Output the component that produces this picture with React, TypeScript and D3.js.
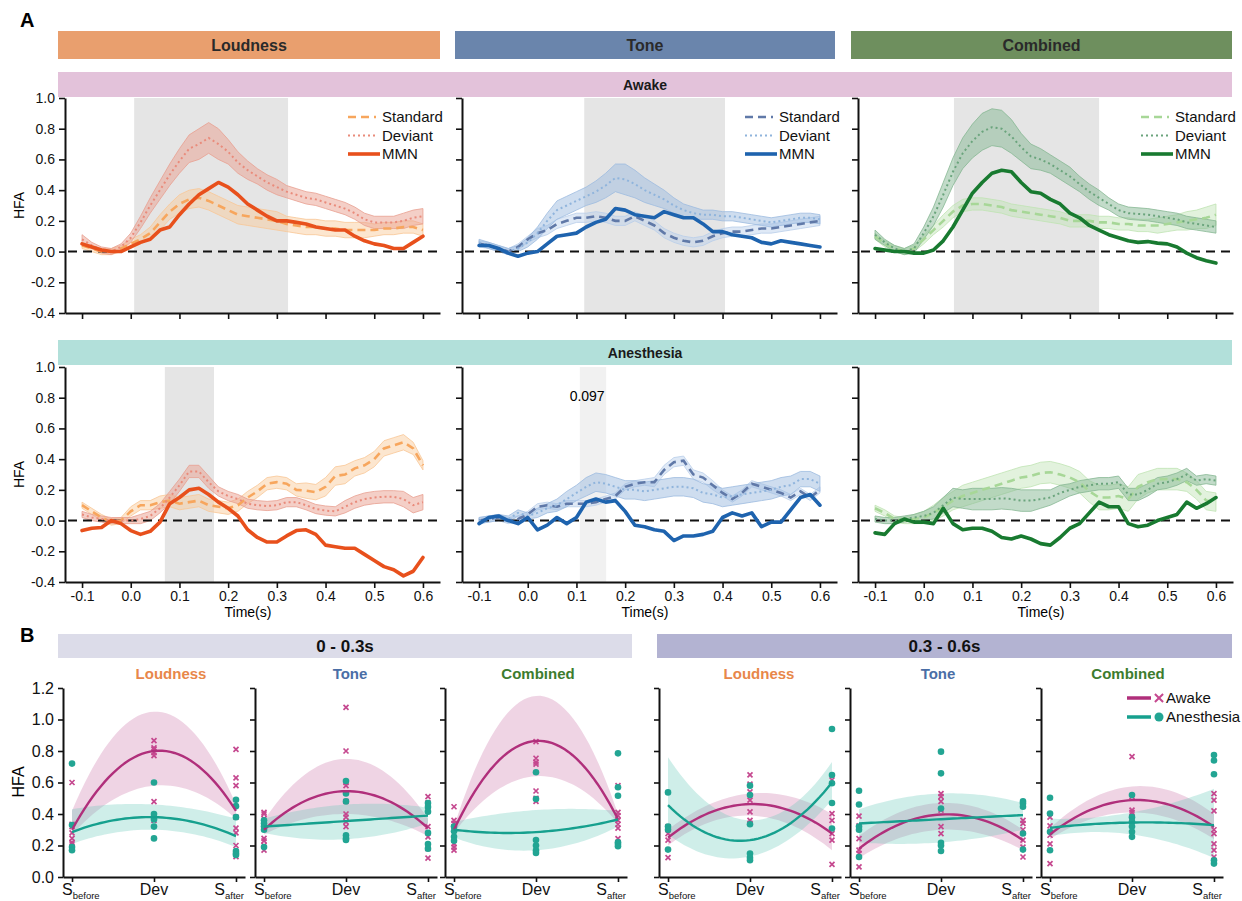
import React, { useEffect, useRef } from "react";
import * as d3 from "d3";

// ---------------- Panel A: time courses ----------------
const times = [-0.1, -0.08, -0.06, -0.04, -0.02, 0, 0.02, 0.04, 0.06, 0.08, 0.1, 0.12, 0.14, 0.16, 0.18, 0.2, 0.22, 0.24, 0.26, 0.28, 0.3, 0.32, 0.34, 0.36, 0.38, 0.4, 0.42, 0.44, 0.46, 0.48, 0.5, 0.52, 0.54, 0.56, 0.58, 0.6];
const timeTicks = [-0.1, 0, 0.1, 0.2, 0.3, 0.4, 0.5, 0.6];
const hfaTicksA = [-0.4, -0.2, 0, 0.2, 0.4, 0.6, 0.8, 1.0];

const conditions = ["Loudness", "Tone", "Combined"];
const states = ["Awake", "Anesthesia"];

// awake
const loudAwakeStd = [0.04, 0.02, 0, 0, 0.02, 0.05, 0.08, 0.12, 0.19, 0.26, 0.31, 0.34, 0.35, 0.33, 0.3, 0.27, 0.24, 0.23, 0.22, 0.21, 0.2, 0.18, 0.17, 0.16, 0.16, 0.15, 0.15, 0.14, 0.14, 0.14, 0.14, 0.15, 0.15, 0.16, 0.16, 0.14];
const loudAwakeStdErr = [0.02, 0.02, 0.02, 0.02, 0.02, 0.03, 0.03, 0.04, 0.05, 0.05, 0.06, 0.06, 0.06, 0.06, 0.06, 0.06, 0.06, 0.06, 0.06, 0.06, 0.06, 0.05, 0.05, 0.05, 0.05, 0.05, 0.05, 0.05, 0.05, 0.05, 0.04, 0.04, 0.04, 0.04, 0.04, 0.04];
const loudAwakeDev = [0.08, 0.04, 0.01, 0, 0.03, 0.09, 0.19, 0.3, 0.4, 0.5, 0.59, 0.67, 0.7, 0.74, 0.7, 0.65, 0.58, 0.53, 0.49, 0.45, 0.42, 0.39, 0.37, 0.35, 0.34, 0.32, 0.3, 0.28, 0.25, 0.21, 0.19, 0.19, 0.19, 0.2, 0.22, 0.23];
const loudAwakeDevErr = [0.03, 0.02, 0.02, 0.02, 0.02, 0.03, 0.04, 0.05, 0.06, 0.07, 0.08, 0.09, 0.1, 0.1, 0.1, 0.08, 0.07, 0.06, 0.05, 0.05, 0.05, 0.04, 0.04, 0.04, 0.04, 0.04, 0.04, 0.04, 0.04, 0.04, 0.04, 0.04, 0.04, 0.05, 0.05, 0.05];
const loudAwakeMmn = [0.05, 0.03, 0.01, 0, 0, 0.03, 0.06, 0.08, 0.14, 0.16, 0.24, 0.31, 0.37, 0.41, 0.45, 0.42, 0.37, 0.31, 0.27, 0.23, 0.2, 0.2, 0.19, 0.18, 0.16, 0.15, 0.14, 0.14, 0.1, 0.07, 0.05, 0.04, 0.02, 0.02, 0.06, 0.1];

const toneAwakeStd = [0.05, 0.04, 0.02, 0, 0.03, 0.08, 0.12, 0.14, 0.18, 0.2, 0.22, 0.22, 0.23, 0.22, 0.2, 0.2, 0.23, 0.2, 0.17, 0.12, 0.09, 0.07, 0.06, 0.07, 0.1, 0.12, 0.13, 0.13, 0.14, 0.15, 0.15, 0.16, 0.17, 0.18, 0.19, 0.2];
const toneAwakeStdErr = [0.02, 0.02, 0.02, 0.02, 0.02, 0.02, 0.03, 0.03, 0.03, 0.03, 0.03, 0.03, 0.03, 0.03, 0.03, 0.03, 0.03, 0.03, 0.03, 0.03, 0.03, 0.03, 0.03, 0.03, 0.03, 0.03, 0.03, 0.03, 0.03, 0.03, 0.03, 0.03, 0.03, 0.03, 0.03, 0.03];
const toneAwakeDev = [0.06, 0.04, 0.02, 0, 0.02, 0.06, 0.12, 0.2, 0.27, 0.3, 0.33, 0.36, 0.39, 0.43, 0.48, 0.47, 0.44, 0.4, 0.37, 0.34, 0.3, 0.27, 0.25, 0.24, 0.24, 0.23, 0.23, 0.22, 0.21, 0.2, 0.19, 0.2, 0.21, 0.22, 0.22, 0.21];
const toneAwakeDevErr = [0.02, 0.02, 0.02, 0.02, 0.02, 0.03, 0.04, 0.05, 0.06, 0.06, 0.06, 0.06, 0.07, 0.08, 0.09, 0.1, 0.09, 0.08, 0.07, 0.06, 0.05, 0.04, 0.04, 0.03, 0.03, 0.03, 0.03, 0.03, 0.03, 0.03, 0.03, 0.03, 0.03, 0.03, 0.03, 0.03];
const toneAwakeMmn = [0.04, 0.04, 0.02, -0.01, -0.03, -0.01, 0, 0.05, 0.1, 0.11, 0.12, 0.16, 0.19, 0.21, 0.28, 0.27, 0.24, 0.23, 0.22, 0.26, 0.24, 0.22, 0.22, 0.18, 0.13, 0.13, 0.11, 0.1, 0.09, 0.06, 0.05, 0.07, 0.06, 0.05, 0.04, 0.03];

const combAwakeStd = [0.1, 0.05, 0.02, 0, 0.02, 0.08, 0.14, 0.2, 0.26, 0.3, 0.31, 0.31, 0.3, 0.29, 0.27, 0.26, 0.25, 0.24, 0.23, 0.22, 0.2, 0.2, 0.2, 0.19, 0.19, 0.18, 0.18, 0.17, 0.17, 0.17, 0.18, 0.19, 0.2, 0.21, 0.22, 0.24];
const combAwakeStdErr = [0.02, 0.02, 0.02, 0.02, 0.02, 0.03, 0.03, 0.04, 0.04, 0.04, 0.04, 0.04, 0.04, 0.04, 0.04, 0.04, 0.04, 0.04, 0.04, 0.04, 0.04, 0.04, 0.04, 0.04, 0.04, 0.04, 0.04, 0.04, 0.04, 0.05, 0.05, 0.05, 0.06, 0.06, 0.07, 0.07];
const combAwakeDev = [0.11, 0.06, 0.02, 0, 0.02, 0.12, 0.23, 0.37, 0.52, 0.64, 0.72, 0.78, 0.81, 0.8, 0.75, 0.68, 0.62, 0.6, 0.57, 0.53, 0.49, 0.44, 0.39, 0.35, 0.31, 0.27, 0.25, 0.245, 0.24, 0.23, 0.22, 0.21, 0.19, 0.18, 0.17, 0.16];
const combAwakeDevErr = [0.03, 0.02, 0.02, 0.02, 0.03, 0.04, 0.06, 0.08, 0.09, 0.1, 0.11, 0.12, 0.12, 0.12, 0.11, 0.09, 0.08, 0.07, 0.06, 0.06, 0.06, 0.05, 0.05, 0.05, 0.04, 0.04, 0.04, 0.04, 0.04, 0.04, 0.04, 0.04, 0.04, 0.04, 0.04, 0.04];
const combAwakeMmn = [0.02, 0.01, 0, 0, -0.01, -0.01, 0.01, 0.07, 0.16, 0.27, 0.38, 0.45, 0.51, 0.53, 0.52, 0.45, 0.39, 0.38, 0.34, 0.31, 0.25, 0.22, 0.17, 0.14, 0.11, 0.09, 0.07, 0.06, 0.065, 0.055, 0.05, 0.03, -0.01, -0.04, -0.06, -0.075];

// anesthesia
const loudAnesStd = [0.1, 0.06, 0.02, -0.01, 0, 0.06, 0.1, 0.1, 0.12, 0.13, 0.11, 0.12, 0.13, 0.1, 0.09, 0.08, 0.1, 0.15, 0.19, 0.24, 0.25, 0.24, 0.2, 0.195, 0.185, 0.22, 0.29, 0.3, 0.34, 0.36, 0.4, 0.47, 0.49, 0.51, 0.47, 0.36];
const loudAnesStdErr = [0.02, 0.02, 0.02, 0.02, 0.02, 0.03, 0.03, 0.03, 0.04, 0.04, 0.04, 0.04, 0.04, 0.04, 0.04, 0.04, 0.04, 0.04, 0.04, 0.04, 0.04, 0.04, 0.04, 0.05, 0.05, 0.06, 0.06, 0.06, 0.05, 0.05, 0.05, 0.05, 0.05, 0.05, 0.04, 0.03];
const loudAnesDev = [0.04, 0.02, 0.01, 0, 0, 0, 0.01, 0.03, 0.08, 0.15, 0.23, 0.32, 0.32, 0.25, 0.19, 0.16, 0.14, 0.11, 0.1, 0.095, 0.1, 0.12, 0.12, 0.1, 0.075, 0.065, 0.06, 0.09, 0.12, 0.14, 0.15, 0.155, 0.155, 0.14, 0.1, 0.12];
const loudAnesDevErr = [0.02, 0.02, 0.02, 0.02, 0.02, 0.02, 0.03, 0.03, 0.03, 0.04, 0.04, 0.04, 0.04, 0.04, 0.03, 0.03, 0.03, 0.03, 0.03, 0.03, 0.03, 0.03, 0.03, 0.03, 0.03, 0.03, 0.03, 0.04, 0.04, 0.04, 0.04, 0.04, 0.04, 0.05, 0.05, 0.05];
const loudAnesMmn = [-0.065, -0.05, -0.045, 0, -0.02, -0.065, -0.09, -0.07, -0.01, 0.11, 0.15, 0.2, 0.21, 0.17, 0.12, 0.08, 0.03, -0.06, -0.11, -0.14, -0.14, -0.1, -0.065, -0.06, -0.09, -0.16, -0.17, -0.18, -0.18, -0.22, -0.26, -0.3, -0.32, -0.36, -0.33, -0.24];

const toneAnesStd = [0, 0.01, 0.02, 0, 0.01, 0.04, 0.09, 0.1, 0.09, 0.11, 0.11, 0.11, 0.12, 0.14, 0.16, 0.22, 0.24, 0.25, 0.25, 0.33, 0.38, 0.39, 0.3, 0.28, 0.23, 0.18, 0.14, 0.18, 0.24, 0.22, 0.2, 0.18, 0.15, 0.19, 0.15, 0.2];
const toneAnesStdErr = [0.02, 0.02, 0.02, 0.02, 0.02, 0.02, 0.02, 0.02, 0.02, 0.02, 0.02, 0.02, 0.02, 0.02, 0.02, 0.02, 0.02, 0.02, 0.03, 0.03, 0.03, 0.03, 0.03, 0.03, 0.03, 0.02, 0.02, 0.02, 0.02, 0.02, 0.02, 0.02, 0.02, 0.02, 0.02, 0.02];
const toneAnesDev = [0, 0.01, 0.02, 0.01, 0.05, 0.03, 0.05, 0.08, 0.1, 0.14, 0.18, 0.22, 0.25, 0.24, 0.22, 0.2, 0.2, 0.19, 0.2, 0.21, 0.22, 0.22, 0.21, 0.18, 0.17, 0.15, 0.16, 0.17, 0.18, 0.19, 0.2, 0.22, 0.23, 0.27, 0.27, 0.24];
const toneAnesDevErr = [0.02, 0.02, 0.02, 0.02, 0.02, 0.02, 0.03, 0.03, 0.04, 0.05, 0.05, 0.06, 0.06, 0.06, 0.06, 0.06, 0.06, 0.06, 0.06, 0.06, 0.06, 0.06, 0.06, 0.06, 0.06, 0.06, 0.06, 0.06, 0.06, 0.06, 0.06, 0.06, 0.06, 0.05, 0.05, 0.05];
const toneAnesMmn = [-0.02, 0.02, 0.03, 0, -0.02, 0.02, -0.06, -0.03, 0.02, -0.02, 0.02, 0.12, 0.14, 0.12, 0.13, 0.06, -0.03, -0.04, -0.06, -0.07, -0.13, -0.1, -0.1, -0.09, -0.07, 0.02, 0.05, 0.03, 0.05, -0.04, -0.01, -0.01, 0.07, 0.15, 0.17, 0.1];

const combAnesStd = [0.08, 0.05, 0.01, 0, 0.01, 0.02, 0.05, 0.09, 0.13, 0.16, 0.18, 0.2, 0.22, 0.24, 0.26, 0.28, 0.29, 0.31, 0.315, 0.3, 0.28, 0.25, 0.19, 0.15, 0.15, 0.16, 0.14, 0.22, 0.25, 0.27, 0.27, 0.27, 0.25, 0.2, 0.13, 0.12];
const combAnesStdErr = [0.02, 0.02, 0.02, 0.02, 0.03, 0.04, 0.05, 0.06, 0.06, 0.07, 0.07, 0.07, 0.07, 0.07, 0.07, 0.07, 0.07, 0.07, 0.07, 0.07, 0.07, 0.07, 0.07, 0.08, 0.08, 0.08, 0.08, 0.08, 0.07, 0.07, 0.07, 0.07, 0.06, 0.06, 0.06, 0.06];
const combAnesDev = [0.01, 0, 0, 0.01, 0.02, 0.03, 0.05, 0.1, 0.15, 0.14, 0.14, 0.14, 0.14, 0.145, 0.14, 0.13, 0.13, 0.14, 0.15, 0.18, 0.2, 0.22, 0.23, 0.24, 0.24, 0.25, 0.17, 0.17, 0.2, 0.24, 0.25, 0.27, 0.3, 0.26, 0.27, 0.26];
const combAnesDevErr = [0.02, 0.02, 0.02, 0.02, 0.02, 0.03, 0.04, 0.05, 0.06, 0.06, 0.07, 0.07, 0.07, 0.07, 0.07, 0.07, 0.07, 0.06, 0.05, 0.05, 0.04, 0.04, 0.04, 0.04, 0.04, 0.04, 0.04, 0.04, 0.04, 0.04, 0.04, 0.04, 0.04, 0.03, 0.03, 0.03];
const combAnesMmn = [-0.08, -0.09, -0.02, 0.01, -0.01, -0.01, -0.02, 0.08, -0.02, -0.06, -0.05, -0.05, -0.07, -0.11, -0.12, -0.1, -0.12, -0.15, -0.16, -0.11, -0.05, -0.02, 0.05, 0.12, 0.09, 0.09, -0.02, -0.04, -0.03, 0, 0.02, 0.04, 0.12, 0.08, 0.11, 0.15];

const awakeShade = [[0.007, 0.323], [0.116, 0.405], [0.062, 0.36]];
const anesShade = [[0.07, 0.171], [0.107, 0.161], null];
const anesPLabel = ["", "0.097", ""];

// ---------------- Panel B: fitted HFA per position ----------------
const positions = ["Sbefore", "Dev", "Safter"];
const hfaTicksB = [0, 0.2, 0.4, 0.6, 0.8, 1.0, 1.2];
const windows = ["0 - 0.3s", "0.3 - 0.6s"];

const eLoudAwakeFit = [0.3, 0.8, 0.42];
const eLoudAwakeLo = [0.27, 0.58, 0.37];
const eLoudAwakeHi = [0.42, 1.05, 0.46];
const eLoudAnesFit = [0.285, 0.38, 0.26];
const eLoudAnesLo = [0.21, 0.3, 0.19];
const eLoudAnesHi = [0.43, 0.46, 0.37];
const eLoudAwakePts = [[0.6, 0.335, 0.32, 0.28, 0.245, 0.22, 0.21], [0.866, 0.82, 0.81, 0.79, 0.77, 0.478, 0.38, 0.36], [0.81, 0.63, 0.58, 0.38, 0.31, 0.28, 0.2, 0.15, 0.13]];
const eLoudAnesPts = [[0.72, 0.33, 0.19, 0.17], [0.6, 0.4, 0.38, 0.365, 0.32, 0.245], [0.49, 0.45, 0.38, 0.165, 0.15, 0.14]];

const eToneAwakeFit = [0.3, 0.545, 0.31];
const eToneAwakeLo = [0.27, 0.4, 0.26];
const eToneAwakeHi = [0.36, 0.75, 0.37];
const eToneAnesFit = [0.32, 0.355, 0.39];
const eToneAnesLo = [0.28, 0.24, 0.34];
const eToneAnesHi = [0.37, 0.46, 0.44];
const eToneAwakePts = [[0.41, 0.4, 0.37, 0.245, 0.23, 0.2, 0.17], [1.077, 0.8, 0.6, 0.58, 0.48, 0.4, 0.38, 0.35, 0.32], [0.51, 0.47, 0.445, 0.425, 0.32, 0.255, 0.18, 0.12]];
const eToneAnesPts = [[0.36, 0.34, 0.32, 0.3, 0.19], [0.61, 0.53, 0.48, 0.265, 0.245, 0.235], [0.47, 0.445, 0.415, 0.28, 0.21, 0.18]];

const eCombAwakeFit = [0.3, 0.864, 0.367];
const eCombAwakeLo = [0.28, 0.64, 0.34];
const eCombAwakeHi = [0.32, 1.15, 0.4];
const eCombAnesFit = [0.3, 0.285, 0.365];
const eCombAnesLo = [0.25, 0.17, 0.32];
const eCombAnesHi = [0.35, 0.425, 0.42];
const eCombAwakePts = [[0.446, 0.36, 0.34, 0.32, 0.276, 0.244, 0.21, 0.19, 0.17], [0.86, 0.754, 0.73, 0.717, 0.546, 0.5, 0.48], [0.58, 0.41, 0.39, 0.36, 0.335, 0.31, 0.244, 0.22]];
const eCombAnesPts = [[0.32, 0.29, 0.255, 0.23], [0.665, 0.495, 0.235, 0.2, 0.17, 0.153], [0.785, 0.57, 0.516, 0.22, 0.21, 0.195]];

const lLoudAwakeFit = [0.25, 0.463, 0.276];
const lLoudAwakeLo = [0.2, 0.39, 0.17];
const lLoudAwakeHi = [0.3, 0.53, 0.4];
const lLoudAnesFit = [0.456, 0.234, 0.6];
const lLoudAnesLo = [0.27, 0.13, 0.49];
const lLoudAnesHi = [0.76, 0.36, 0.73];
const lLoudAwakePts = [[0.32, 0.276, 0.234, 0.123], [0.648, 0.59, 0.54, 0.488, 0.414, 0.36, 0.34], [0.616, 0.403, 0.36, 0.276, 0.234, 0.08]];
const lLoudAnesPts = [[0.537, 0.32, 0.3, 0.174], [0.58, 0.52, 0.335, 0.149, 0.123, 0.106], [0.94, 0.648, 0.595, 0.47, 0.308]];

const lToneAwakeFit = [0.18, 0.397, 0.234];
const lToneAwakeLo = [0.12, 0.3, 0.17];
const lToneAwakeHi = [0.26, 0.47, 0.3];
const lToneAnesFit = [0.34, 0.367, 0.393];
const lToneAnesLo = [0.22, 0.22, 0.3];
const lToneAnesHi = [0.43, 0.53, 0.47];
const lToneAwakePts = [[0.386, 0.325, 0.244, 0.17, 0.15, 0.064], [0.53, 0.51, 0.48, 0.425, 0.32, 0.276], [0.36, 0.34, 0.3, 0.234, 0.19, 0.127]];
const lToneAnesPts = [[0.548, 0.46, 0.32, 0.3, 0.127], [0.796, 0.658, 0.435, 0.217, 0.2, 0.165], [0.48, 0.467, 0.446, 0.276, 0.174]];

const lCombAwakeFit = [0.27, 0.488, 0.318];
const lCombAwakeLo = [0.24, 0.41, 0.24];
const lCombAwakeHi = [0.31, 0.575, 0.4];
const lCombAnesFit = [0.312, 0.346, 0.329];
const lCombAnesLo = [0.26, 0.27, 0.12];
const lCombAnesHi = [0.37, 0.41, 0.56];
const lCombAwakePts = [[0.38, 0.325, 0.265, 0.21, 0.085], [0.764, 0.51, 0.425, 0.41, 0.38, 0.36], [0.53, 0.488, 0.42, 0.3, 0.276, 0.21, 0.17, 0.127, 0.106]];
const lCombAnesPts = [[0.503, 0.403, 0.287, 0.17], [0.52, 0.38, 0.35, 0.32, 0.287, 0.255], [0.775, 0.74, 0.652, 0.106, 0.085]];

// ---------------- styling ----------------
const FONT = "'Liberation Sans', Arial, sans-serif";
const themes = [
  { header: "#E99F6E", title: "#E8874A", std: "#F7A65D", dev: "#E98B7B", mmn: "#E8501C", stdBand: "#F9C795", devBand: "#E9A090" },
  { header: "#6A85AC", title: "#4A6EA6", std: "#6079A8", dev: "#8FB4DC", mmn: "#1E63AE", stdBand: "#B9CEEA", devBand: "#9DBBE0" },
  { header: "#6E8F5E", title: "#3D7C2E", std: "#A7D797", dev: "#6AA47C", mmn: "#187A30", stdBand: "#BFE3B3", devBand: "#86B893" },
];
const AWAKE = "#B02F7B";
const AWAKE_PT = "#C5488F";
const ANES = "#16A08E";
const ANES_PT = "#22A593";

const styleAxis = (g: any, size: number) => {
  g.attr("font-family", FONT).attr("font-size", size);
  g.selectAll(".domain").attr("stroke", "#111").attr("stroke-width", 2);
  g.selectAll(".tick line").attr("stroke", "#111").attr("stroke-width", 1.6);
  g.selectAll(".tick text").attr("fill", "#111");
};

function drawPanelA(svg: any) {
  const colX = [65, 462, 858];
  const rowTop = [98, 367];
  const plotW = 375, plotH = 215;
  const headerX = [[58, 440], [455, 835], [851, 1232]];
  const series = [
    [
      [loudAwakeStd, loudAwakeStdErr, loudAwakeDev, loudAwakeDevErr, loudAwakeMmn],
      [toneAwakeStd, toneAwakeStdErr, toneAwakeDev, toneAwakeDevErr, toneAwakeMmn],
      [combAwakeStd, combAwakeStdErr, combAwakeDev, combAwakeDevErr, combAwakeMmn],
    ],
    [
      [loudAnesStd, loudAnesStdErr, loudAnesDev, loudAnesDevErr, loudAnesMmn],
      [toneAnesStd, toneAnesStdErr, toneAnesDev, toneAnesDevErr, toneAnesMmn],
      [combAnesStd, combAnesStdErr, combAnesDev, combAnesDevErr, combAnesMmn],
    ],
  ];
  const shades = [awakeShade, anesShade];

  svg.append("text").attr("x", 20).attr("y", 27).attr("font-size", 20).attr("font-weight", "bold").text("A");

  conditions.forEach((c, i) => {
    svg.append("rect").attr("x", headerX[i][0]).attr("y", 31).attr("width", headerX[i][1] - headerX[i][0]).attr("height", 28).attr("fill", themes[i].header);
    svg.append("text").attr("x", (headerX[i][0] + headerX[i][1]) / 2).attr("y", 51).attr("text-anchor", "middle")
      .attr("font-size", 16).attr("font-weight", "bold").attr("fill", "#2a2a2a").text(c);
  });

  const stateBar = [{ y: 72, fill: "#E3C2DA" }, { y: 340, fill: "#B2E0DA" }];
  states.forEach((s, r) => {
    svg.append("rect").attr("x", 58).attr("y", stateBar[r].y).attr("width", 1174).attr("height", 25).attr("fill", stateBar[r].fill);
    svg.append("text").attr("x", 645).attr("y", stateBar[r].y + 18).attr("text-anchor", "middle")
      .attr("font-size", 14).attr("font-weight", "bold").attr("fill", "#1a1a1a").text(s);
  });

  for (let r = 0; r < 2; r++) {
    for (let c = 0; c < 3; c++) {
      const th = themes[c];
      const x = d3.scaleLinear().domain([-0.135, 0.635]).range([colX[c], colX[c] + plotW]);
      const y = d3.scaleLinear().domain([-0.4, 1.0]).range([rowTop[r] + plotH, rowTop[r]]);
      const g = svg.append("g");

      const sh = shades[r][c];
      if (sh) {
        g.append("rect").attr("x", x(sh[0])).attr("y", y(1.0)).attr("width", x(sh[1]) - x(sh[0])).attr("height", plotH)
          .attr("fill", r === 1 && c === 1 ? "#f1f1f1" : "#e5e5e5");
      }
      if (anesPLabel[c] && r === 1) {
        g.append("text").attr("x", x(0.122)).attr("y", y(0.78)).attr("text-anchor", "middle").attr("font-size", 14).text(anesPLabel[c]);
      }

      const [std, stdErr, dev, devErr, mmn] = series[r][c];
      const rows = (v: number[], e?: number[]) =>
        times.map((t, i) => ({ t, v: v[i], e: e ? e[i] : 0 })).filter((d) => d.v !== undefined && d.e !== undefined);
      const area = d3.area<any>().x((d) => x(d.t)).y0((d) => y(d.v - d.e)).y1((d) => y(d.v + d.e));
      const line = d3.line<any>().x((d) => x(d.t)).y((d) => y(d.v));

      g.append("path").datum(rows(std, stdErr)).attr("d", area).attr("fill", th.stdBand).attr("fill-opacity", 0.45)
        .attr("stroke", th.stdBand).attr("stroke-width", 0.8);
      g.append("path").datum(rows(dev, devErr)).attr("d", area).attr("fill", th.devBand).attr("fill-opacity", 0.5)
        .attr("stroke", th.devBand).attr("stroke-width", 0.8);

      g.append("line").attr("x1", colX[c] + 3).attr("x2", colX[c] + plotW).attr("y1", y(0)).attr("y2", y(0))
        .attr("stroke", "#111").attr("stroke-width", 2).attr("stroke-dasharray", "9,6");

      g.append("path").datum(rows(std)).attr("d", line).attr("fill", "none").attr("stroke", th.std)
        .attr("stroke-width", 2.6).attr("stroke-dasharray", "8,5");
      g.append("path").datum(rows(dev)).attr("d", line).attr("fill", "none").attr("stroke", th.dev)
        .attr("stroke-width", 2).attr("stroke-dasharray", "2,3");
      g.append("path").datum(rows(mmn)).attr("d", line).attr("fill", "none").attr("stroke", th.mmn)
        .attr("stroke-width", 3.6).attr("stroke-linejoin", "round").attr("stroke-linecap", "round");

      const yAx = d3.axisLeft(y).tickValues(hfaTicksA).tickSize(6).tickSizeOuter(0).tickPadding(4)
        .tickFormat(c === 0 ? (d: any) => (+d).toFixed(1) : () => "");
      const ya = g.append("g").attr("transform", `translate(${colX[c]},0)`).call(yAx);
      styleAxis(ya, 14);

      const xAx = d3.axisBottom(x).tickValues(timeTicks).tickSize(6).tickSizeOuter(0).tickPadding(3)
        .tickFormat(r === 1 ? (d: any) => (+d).toFixed(1) : () => "");
      const xa = g.append("g").attr("transform", `translate(0,${rowTop[r] + plotH})`).call(xAx);
      styleAxis(xa, 14);

      if (c === 0) {
        g.append("text").attr("transform", `translate(24,${rowTop[r] + plotH / 2}) rotate(-90)`).attr("text-anchor", "middle")
          .attr("font-size", 14).text("HFA");
      }
      if (r === 1) {
        g.append("text").attr("x", colX[c] + 183).attr("y", 617).attr("text-anchor", "middle").attr("font-size", 14).text("Time(s)");
      }
      if (r === 0) {
        const lx = colX[c] + plotW - 92;
        const items = [
          { label: "Standard", stroke: th.std, w: 2.6, dash: "8,5", len: 28 },
          { label: "Deviant", stroke: th.dev, w: 2, dash: "2,3", len: 29 },
          { label: "MMN", stroke: th.mmn, w: 3.6, dash: null, len: 32 },
        ];
        items.forEach((it, i) => {
          const ly = 117 + i * 18.5;
          g.append("line").attr("x1", lx).attr("x2", lx + it.len).attr("y1", ly).attr("y2", ly)
            .attr("stroke", it.stroke).attr("stroke-width", it.w).attr("stroke-dasharray", it.dash);
          g.append("text").attr("x", lx + 34).attr("y", ly + 5).attr("font-size", 15).attr("fill", "#111").text(it.label);
        });
      }
    }
  }
}

function drawPanelB(svg: any) {
  const axisX = [63, 255, 445, 659, 850, 1041];
  const plotW = 182;
  const titleDx = [17, 4, 2, 9, -3, -4];
  const subplots = [
    { win: 0, cond: 0, aw: [eLoudAwakeFit, eLoudAwakeLo, eLoudAwakeHi], an: [eLoudAnesFit, eLoudAnesLo, eLoudAnesHi], awPts: eLoudAwakePts, anPts: eLoudAnesPts },
    { win: 0, cond: 1, aw: [eToneAwakeFit, eToneAwakeLo, eToneAwakeHi], an: [eToneAnesFit, eToneAnesLo, eToneAnesHi], awPts: eToneAwakePts, anPts: eToneAnesPts },
    { win: 0, cond: 2, aw: [eCombAwakeFit, eCombAwakeLo, eCombAwakeHi], an: [eCombAnesFit, eCombAnesLo, eCombAnesHi], awPts: eCombAwakePts, anPts: eCombAnesPts },
    { win: 1, cond: 0, aw: [lLoudAwakeFit, lLoudAwakeLo, lLoudAwakeHi], an: [lLoudAnesFit, lLoudAnesLo, lLoudAnesHi], awPts: lLoudAwakePts, anPts: lLoudAnesPts },
    { win: 1, cond: 1, aw: [lToneAwakeFit, lToneAwakeLo, lToneAwakeHi], an: [lToneAnesFit, lToneAnesLo, lToneAnesHi], awPts: lToneAwakePts, anPts: lToneAnesPts },
    { win: 1, cond: 2, aw: [lCombAwakeFit, lCombAwakeLo, lCombAwakeHi], an: [lCombAnesFit, lCombAnesLo, lCombAnesHi], awPts: lCombAwakePts, anPts: lCombAnesPts },
  ];

  svg.append("text").attr("x", 20).attr("y", 642).attr("font-size", 20).attr("font-weight", "bold").text("B");

  const winBars = [{ x0: 58, x1: 632, fill: "#DCDCE9" }, { x0: 657, x1: 1232, fill: "#B3B3D2" }];
  windows.forEach((w, i) => {
    svg.append("rect").attr("x", winBars[i].x0).attr("y", 634).attr("width", winBars[i].x1 - winBars[i].x0).attr("height", 24).attr("fill", winBars[i].fill);
    svg.append("text").attr("x", (winBars[i].x0 + winBars[i].x1) / 2).attr("y", 652).attr("text-anchor", "middle")
      .attr("font-size", 17).attr("font-weight", "bold").attr("fill", "#111").text(w);
  });

  const y = d3.scaleLinear().domain([0, 1.2]).range([877, 688]);
  const quad = (v: number[], u: number) => (v[0] * (u - 1) * (u - 2)) / 2 - v[1] * u * (u - 2) + (v[2] * u * (u - 1)) / 2;
  const samples = d3.range(0, 2.0001, 0.05);
  const xType = (d3 as any).symbolX || d3.symbolCross;

  subplots.forEach((sp, k) => {
    const x0 = axisX[k];
    const x = d3.scalePoint().domain(positions).range([x0, x0 + plotW]).padding(0.11);
    const u = d3.scaleLinear().domain([0, 2]).range([x(positions[0]) as number, x(positions[2]) as number]);
    const g = svg.append("g");

    g.append("text").attr("x", (x("Dev") as number) + titleDx[k]).attr("y", 679).attr("text-anchor", "middle")
      .attr("font-size", 15).attr("font-weight", "bold").attr("fill", themes[sp.cond].title).text(conditions[sp.cond]);

    const area = (lo: number[], hi: number[]) =>
      d3.area<number>().x((s) => u(s)).y0((s) => y(quad(lo, s))).y1((s) => y(quad(hi, s)))(samples);
    const line = (fit: number[]) => d3.line<number>().x((s) => u(s)).y((s) => y(quad(fit, s)))(samples);

    g.append("path").attr("d", area(sp.aw[1], sp.aw[2])).attr("fill", "#C96FA5").attr("fill-opacity", 0.3);
    g.append("path").attr("d", area(sp.an[1], sp.an[2])).attr("fill", "#5FC8B5").attr("fill-opacity", 0.3);

    sp.awPts.forEach((vals, i) => {
      g.selectAll(null).data(vals).join("path")
        .attr("d", d3.symbol().type(xType).size(18)())
        .attr("transform", (v: number) => `translate(${x(positions[i])},${y(v)})`)
        .attr("fill", "none").attr("stroke", AWAKE_PT).attr("stroke-width", 1.7);
    });
    sp.anPts.forEach((vals, i) => {
      g.selectAll(null).data(vals).join("circle")
        .attr("cx", x(positions[i])).attr("cy", (v: number) => y(v)).attr("r", 3.3).attr("fill", ANES_PT);
    });

    g.append("path").attr("d", line(sp.aw[0])).attr("fill", "none").attr("stroke", AWAKE).attr("stroke-width", 2.4);
    g.append("path").attr("d", line(sp.an[0])).attr("fill", "none").attr("stroke", ANES).attr("stroke-width", 2.4);

    const yAx = d3.axisLeft(y).tickValues(hfaTicksB).tickSize(5).tickSizeOuter(0).tickPadding(4)
      .tickFormat(k === 0 ? (d: any) => (+d).toFixed(1) : () => "");
    const ya = g.append("g").attr("transform", `translate(${x0},0)`).call(yAx);
    styleAxis(ya, 16);

    const xAx = d3.axisBottom(x).tickSize(5).tickSizeOuter(0).tickFormat(() => "");
    const xa = g.append("g").attr("transform", "translate(0,877)").call(xAx);
    styleAxis(xa, 16);

    positions.forEach((p) => {
      const px = x(p) as number;
      const t = g.append("text").attr("y", 895).attr("font-size", 16).attr("fill", "#111");
      if (p === "Dev") {
        t.attr("x", px).attr("text-anchor", "middle").text("Dev");
      } else if (p === "Sbefore") {
        t.attr("x", px - 10).attr("text-anchor", "start");
        t.append("tspan").text("S");
        t.append("tspan").attr("font-size", 9.5).attr("dy", 4).text("before");
      } else {
        t.attr("x", px + 8).attr("text-anchor", "end");
        t.append("tspan").text("S");
        t.append("tspan").attr("font-size", 9.5).attr("dy", 4).text("after");
      }
    });
  });

  svg.append("text").attr("transform", "translate(24,782) rotate(-90)").attr("text-anchor", "middle").attr("font-size", 16).text("HFA");

  // legend
  const lg = svg.append("g");
  const legend = [
    { label: "Awake", color: AWAKE, pt: AWAKE_PT, y: 698, kind: "x" },
    { label: "Anesthesia", color: ANES, pt: ANES_PT, y: 717, kind: "o" },
  ];
  legend.forEach((it) => {
    lg.append("line").attr("x1", 1127).attr("x2", 1151).attr("y1", it.y).attr("y2", it.y).attr("stroke", it.color).attr("stroke-width", 3.5);
    if (it.kind === "x") {
      lg.append("path").attr("d", d3.symbol().type(xType).size(45)()).attr("transform", `translate(1159,${it.y})`)
        .attr("fill", "none").attr("stroke", it.pt).attr("stroke-width", 2);
    } else {
      lg.append("circle").attr("cx", 1159).attr("cy", it.y).attr("r", 4.5).attr("fill", it.pt);
    }
    lg.append("text").attr("x", 1166).attr("y", it.y + 5).attr("font-size", 15).attr("fill", "#111").text(it.label);
  });
}

export default function App() {
  const ref = useRef<SVGSVGElement>(null);

  useEffect(() => {
    const svg = d3.select(ref.current);
    svg.selectAll("*").remove();
    svg.attr("font-family", FONT);
    drawPanelA(svg);
    drawPanelB(svg);
  }, []);

  return (
    <svg
      ref={ref}
      width={1242}
      height={901}
      style={{ position: "absolute", left: 0, top: 0, background: "#fff", display: "block" }}
    />
  );
}
